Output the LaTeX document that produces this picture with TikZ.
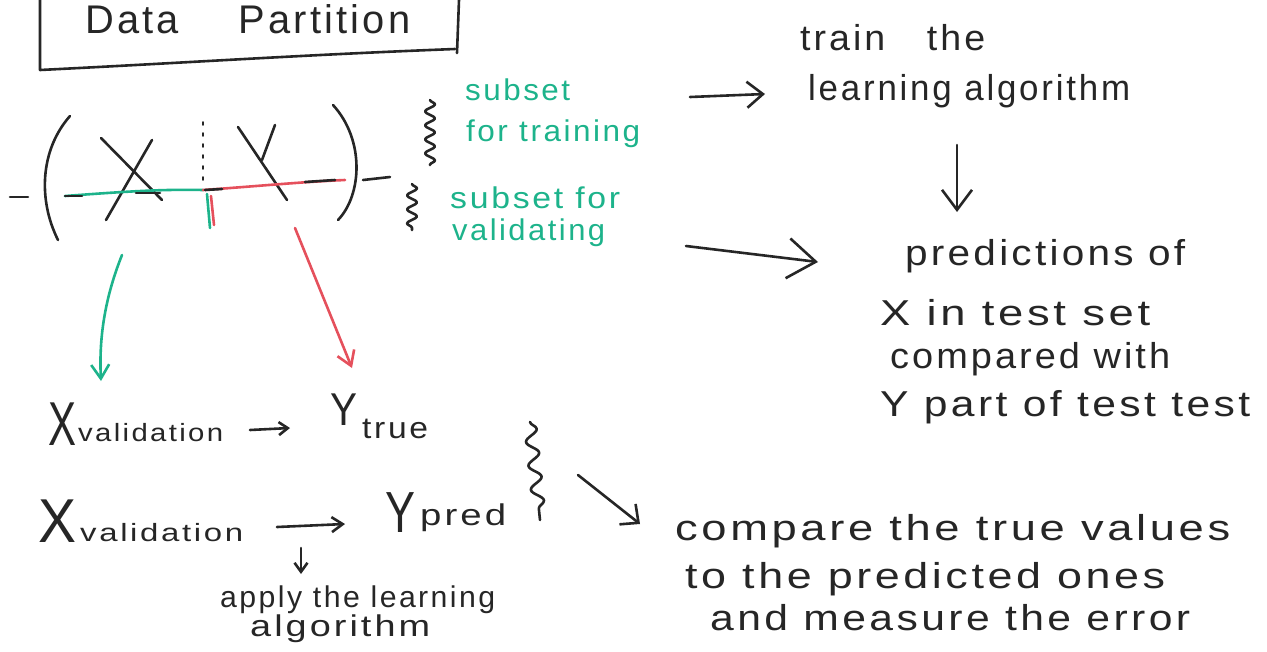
\documentclass[tikz,border=0pt]{standalone}
\usepackage{fontspec}
\setmainfont{Liberation Sans}
\newfontfamily\hand[LetterSpace=8]{Liberation Sans}
\usetikzlibrary{arrows.meta,decorations.pathmorphing}
\definecolor{ink}{HTML}{262626}
\definecolor{mgreen}{HTML}{1DB38B}
\definecolor{mred}{HTML}{E5505C}
\newcommand{\fw}[2]{\resizebox{#1pt}{\height}{#2}}
\begin{document}
\begin{tikzpicture}[x=1pt,y=-1pt,line cap=round,line join=round,
  pen/.style={draw=ink,line width=2.6pt},
  txt/.style={inner sep=0pt,anchor=base west,text=ink,font=\hand\fontsize{36}{40}\selectfont},
  gtxt/.style={txt,text=mgreen,font=\hand\fontsize{30}{34}\selectfont},
  small/.style={font=\hand\fontsize{30}{34}\selectfont},
  sub/.style={font=\hand\fontsize{25}{28}\selectfont},
  big/.style={font=\hand\fontsize{62}{66}\selectfont},
  squig/.style={pen,decorate,decoration={snake,amplitude=#1,segment length=14pt}}]
\useasboundingbox (0,0) rectangle (1267,651);

% title box
\draw[pen] (40,0) -- (40,70) .. controls (200,62) and (300,55) .. (455,49);
\draw[pen] (459,0) -- (457,53);
\node[txt,font=\hand\fontsize{40}{44}\selectfont] (title) at (85,33) {\fw{325}{Data\hspace{60pt}Partition}};

% (X | Y)
\draw[pen] (10,197) -- (28,197);
\draw[pen] (70,116) .. controls (40,150) and (38,200) .. (58,240);
\draw[pen] (333,105) .. controls (365,140) and (362,195) .. (338,220);
\draw[pen] (363,180) -- (390,177);
\draw[pen] (101,138) -- (162,200);
\draw[pen] (152,140) -- (106,220);
\draw[pen] (238,127) -- (287,200);
\draw[pen] (275,125) -- (262,160);
\draw[pen,line width=1.6pt,dash pattern=on 3pt off 8pt] (203,122) -- (203,186);
\draw[pen,draw=mgreen] (65,196) .. controls (120,192) and (160,189) .. (203,190);
\draw[pen,draw=mred] (203,190) .. controls (260,186) and (300,182) .. (345,180);
\draw[pen] (65,196) -- (82,196);
\draw[pen] (136,193) -- (160,193);
\draw[pen] (205,190) -- (222,189);
\draw[pen] (305,182) -- (335,180);
\draw[pen,draw=mgreen] (207,194) -- (210,228);
\draw[pen,draw=mred] (211,196) -- (214,225);

% squiggles
\draw[squig=5pt] (430,100) -- (430,165);
\draw[squig=5pt] (412,184) -- (412,230);
\draw[pen,decorate,decoration={snake,amplitude=6pt,segment length=24pt}] (530,422) -- (540,520);

% green labels
\node[gtxt] (sub1) at (465,100) {\fw{105}{subset}};
\node[gtxt] (sub1b) at (466,141) {\fw{174}{for training}};
\node[gtxt] (sub2) at (450,208) {\fw{170}{subset for}};
\node[gtxt] (sub2b) at (452,240) {\fw{153}{validating}};

% right column
\node[txt] (train1) at (800,50) {\fw{185}{train\hspace{40pt}the}};
\node[txt] (train2) at (808,100) {\fw{322}{learning algorithm}};
\node[txt] (pred1) at (905,265) {\fw{280}{predictions of}};
\node[txt] (pred2) at (880,325) {\fw{270}{X in test set}};
\node[txt] (pred3) at (890,368) {\fw{280}{compared with}};
\node[txt] (pred4) at (880,416) {\fw{370}{Y part of test test}};

\coordinate (a1s) at (690,97);  \coordinate (a1e) at (765,94);
\coordinate (a2s) at (686,246); \coordinate (a2e) at (818,262);
\coordinate (a3s) at (957,145); \coordinate (a3e) at (957,212);
\draw[pen,-{Straight Barb[length=16pt,width=26pt]}] (a1s) -- (a1e);
\draw[pen,-{Straight Barb[length=28pt,width=40pt]}] (a2s) -- (a2e);
\draw[pen,-{Straight Barb[length=20pt,width=30pt]}] (a3s) -- (a3e);

% bottom left
\node[txt,big] (x1) at (48,445) {\fw{28}{X}};
\node[txt,sub] (v1) at (78,441) {\fw{145}{validation}};
\node[txt,font=\hand\fontsize{46}{50}\selectfont] (y1) at (330,425) {\fw{27}{Y}};
\node[txt,small] (t1) at (362,438) {\fw{66}{true}};
\node[txt,big] (x2) at (38,542) {\fw{38}{X}};
\node[txt,sub] (v2) at (80,541) {\fw{163}{validation}};
\node[txt,font=\hand\fontsize{58}{62}\selectfont] (y2) at (385,532) {\fw{30}{Y}};
\node[txt,small] (p2) at (420,525) {\fw{86}{pred}};
\node[txt,small] (ap1) at (220,607) {\fw{275}{apply the learning}};
\node[txt,small] (ap2) at (250,636) {\fw{180}{algorithm}};

\coordinate (b1s) at (250,430); \coordinate (b1e) at (290,428);
\coordinate (b2s) at (277,527); \coordinate (b2e) at (345,524);
\coordinate (b3s) at (301,548); \coordinate (b3e) at (301,574);
\draw[pen,-{Straight Barb[length=9pt,width=13pt]}] (b1s) -- (b1e);
\draw[pen,-{Straight Barb[length=11pt,width=15pt]}] (b2s) -- (b2e);
\draw[pen,-{Straight Barb[length=9pt,width=13pt]}] (b3s) -- (b3e);

% coloured arrows
\coordinate (ga1) at (122,255); \coordinate (ga2) at (101,381);
\draw[pen,draw=mgreen,-{Straight Barb[length=14pt,width=18pt]}] (ga1) .. controls (104,300) and (99,340) .. (ga2);
\coordinate (ra1) at (295,228); \coordinate (ra2) at (352,368);
\draw[pen,draw=mred,-{Straight Barb[length=14pt,width=18pt]}] (ra1) -- (ra2);

% compare
\node[txt] (c1) at (675,540) {\fw{555}{compare the true values}};
\node[txt] (c2) at (685,588) {\fw{480}{to the predicted ones}};
\node[txt] (c3) at (710,630) {\fw{480}{and measure the error}};
\coordinate (ds) at (578,475); \coordinate (de) at (640,524);
\draw[pen,-{Straight Barb[length=14pt,width=26pt]}] (ds) -- (de);
\end{tikzpicture}
\end{document}
